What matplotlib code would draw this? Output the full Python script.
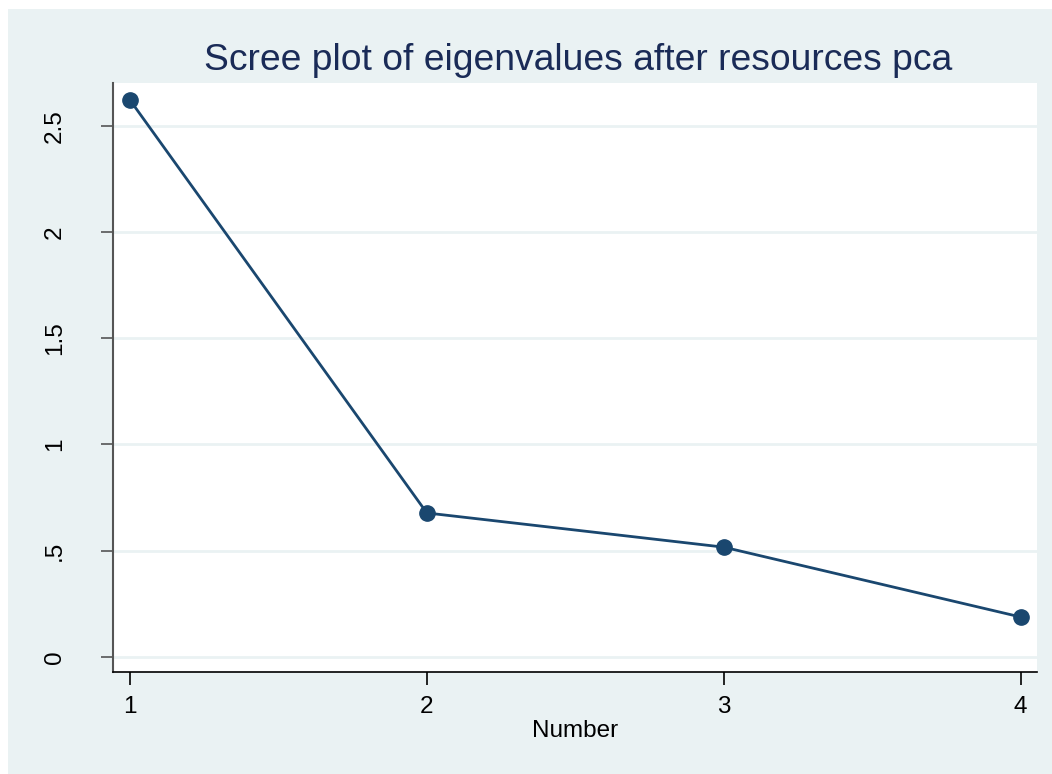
import matplotlib.pyplot as plt
from matplotlib.patches import Rectangle

plt.rcParams['font.family'] = ['Liberation Sans', 'DejaVu Sans']

components = [1, 2, 3, 4]
eigenvalues = [2.622, 0.677, 0.516, 0.187]
y_ticks = [0, 0.5, 1, 1.5, 2, 2.5]
y_tick_labels = ['0', '.5', '1', '1.5', '2', '2.5']

navy = '#1a476f'
bg = '#eaf2f3'

fig = plt.figure(figsize=(10.52, 7.74), dpi=100)
fig.patches.append(Rectangle((8 / 1052, 0), 1 - 8 / 1052, 1 - 9 / 774,
                             transform=fig.transFigure, facecolor=bg,
                             edgecolor='none', zorder=-10))

ax = fig.add_axes([113 / 1052, 1 - 672 / 774, (1037 - 113) / 1052, (672 - 83) / 774])
ax.set_facecolor('white')
ax.plot(components, eigenvalues, color=navy, lw=2, marker='o', ms=11,
        markerfacecolor=navy, markeredgecolor=navy, clip_on=False, zorder=3)

ax.set_xlim(0.943, 4.055)
ax.set_ylim(-0.072, 2.702)
ax.set_xticks(components)
ax.set_yticks(y_ticks)
ax.set_yticklabels(y_tick_labels, rotation=90, va='center')
ax.yaxis.grid(True, color=bg, lw=2)
ax.set_axisbelow(True)

for s in ['top', 'right']:
    ax.spines[s].set_visible(False)
ax.spines['left'].set_color('#555555')
ax.spines['left'].set_linewidth(1.5)
ax.spines['bottom'].set_color('black')
ax.spines['bottom'].set_linewidth(1.2)
ax.tick_params(axis='both', direction='out', length=9, width=1.2, labelsize=17.5,
               colors='black', pad=8)
ax.tick_params(axis='y', colors='#555555', labelcolor='black', pad=25)

ax.set_xlabel('Number', fontsize=17.5, labelpad=2)
fig.text(578 / 1052, 1 - 60 / 774, 'Scree plot of eigenvalues after resources pca',
         ha='center', va='center', fontsize=26.8, color='#1a2b57')

fig.savefig('out.png', dpi=100)
